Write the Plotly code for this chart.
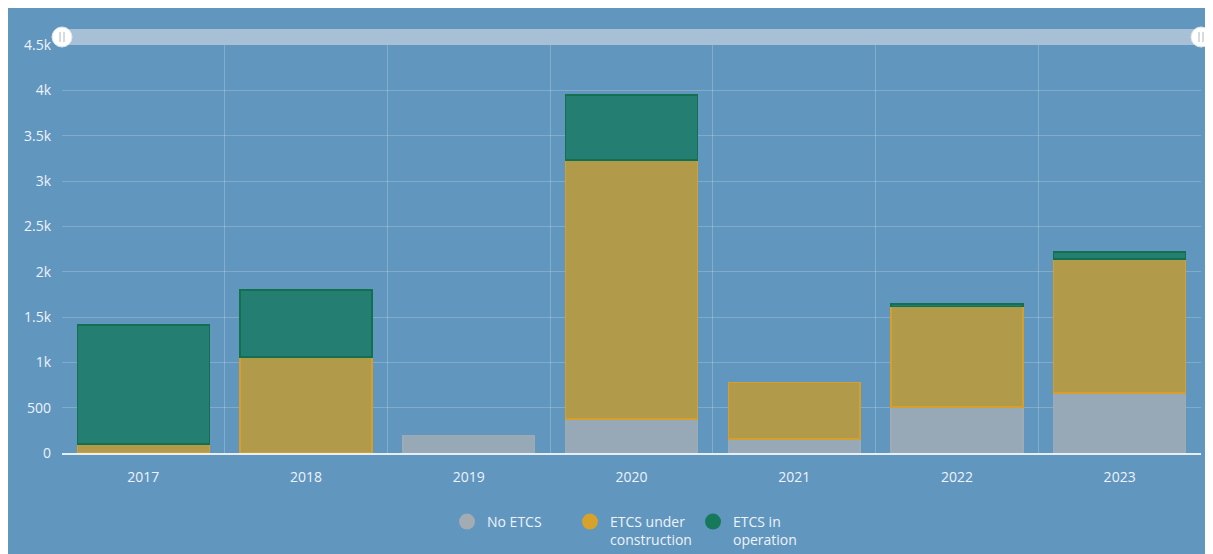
import plotly.graph_objects as go

years = ["2017", "2018", "2019", "2020", "2021", "2022", "2023"]
no_etcs = [0, 0, 195, 375, 155, 505, 660]
under_construction = [100, 1060, 0, 2855, 620, 1110, 1480]
in_operation = [1310, 740, 0, 720, 0, 30, 75]

y_ticks = [0, 500, 1000, 1500, 2000, 2500, 3000, 3500, 4000, 4500]
y_tick_labels = ["0", "500", "1k", "1.5k", "2k", "2.5k", "3k", "3.5k", "4k", "4.5k"]

series_names = ["No ETCS", "ETCS under<br>construction", "ETCS in<br>operation"]

BG = "#6196bf"
fills = ["#97a9b7", "#b29a4b", "#247f72"]
edges = ["#9eaab4", "#d49f2c", "#13704f"]
legend_cols = ["#a3abb3", "#d6a22c", "#16795c"]

fig = go.Figure()
for name, vals, fc, ec in zip(series_names, [no_etcs, under_construction, in_operation], fills, edges):
    fig.add_trace(go.Bar(x=years, y=[v if v else None for v in vals], name=name,
                         marker=dict(color=fc, line=dict(color=ec, width=1.5)),
                         showlegend=False))
for name, lc in zip(series_names, legend_cols):
    fig.add_trace(go.Scatter(x=[None], y=[None], mode="markers", name=name,
                             marker=dict(color=lc, size=16, symbol="circle")))

# page is offset by the 8px body margin
W, H = 1213, 554
L, R, T, B = 54, 20, 37, 109
pw, ph = W - L - R, H - T - B

def px(x):
    return (x - L) / pw

def py(y):
    return (H - B - y) / ph

shapes = [
    dict(type="rect", xref="paper", yref="paper", x0=0, x1=1, y0=py(37), y1=py(21),
         fillcolor="rgba(205,215,225,0.65)", line=dict(width=0), layer="above"),
]
for cx in [54, 1193]:
    r = 10
    shapes.append(dict(type="circle", xref="paper", yref="paper", x0=px(cx - r), x1=px(cx + r),
                       y0=py(29 + r), y1=py(29 - r), fillcolor="white",
                       line=dict(color="#dfe6ec", width=1), layer="above"))
    for dx in [-2, 2]:
        shapes.append(dict(type="line", xref="paper", yref="paper", x0=px(cx + dx), x1=px(cx + dx),
                           y0=py(34), y1=py(24), line=dict(color="#b0b8c0", width=1), layer="above"))

fig.update_layout(
    width=W, height=H,
    margin=dict(l=L, r=R, t=T, b=B, autoexpand=False),
    paper_bgcolor=BG, plot_bgcolor=BG,
    barmode="stack", bargap=0.19,
    font=dict(family="Open Sans, sans-serif", color="#eef3f8", size=14),
    xaxis=dict(type="category", tickson="boundaries", showgrid=True,
               gridcolor="rgba(255,255,255,0.22)", gridwidth=1,
               showline=True, linecolor="rgba(255,255,255,0.85)", linewidth=1.5,
               ticks="", tickfont=dict(size=14, color="#eef3f8"), ticklabelstandoff=10),
    yaxis=dict(range=[0, 4500], tickvals=y_ticks, ticktext=y_tick_labels,
               showgrid=True, gridcolor="rgba(255,255,255,0.2)", gridwidth=1,
               zeroline=False, ticks="", tickfont=dict(size=14, color="#eef3f8"),
               ticklabelstandoff=10),
    legend=dict(orientation="h", x=0.5, xanchor="center", y=py(498), yanchor="top",
                valign="top", bgcolor="rgba(0,0,0,0)", font=dict(size=14, color="#eef3f8"),
                traceorder="normal", entrywidth=78, itemwidth=30),
    shapes=shapes,
)

fig.write_html("out.html")
